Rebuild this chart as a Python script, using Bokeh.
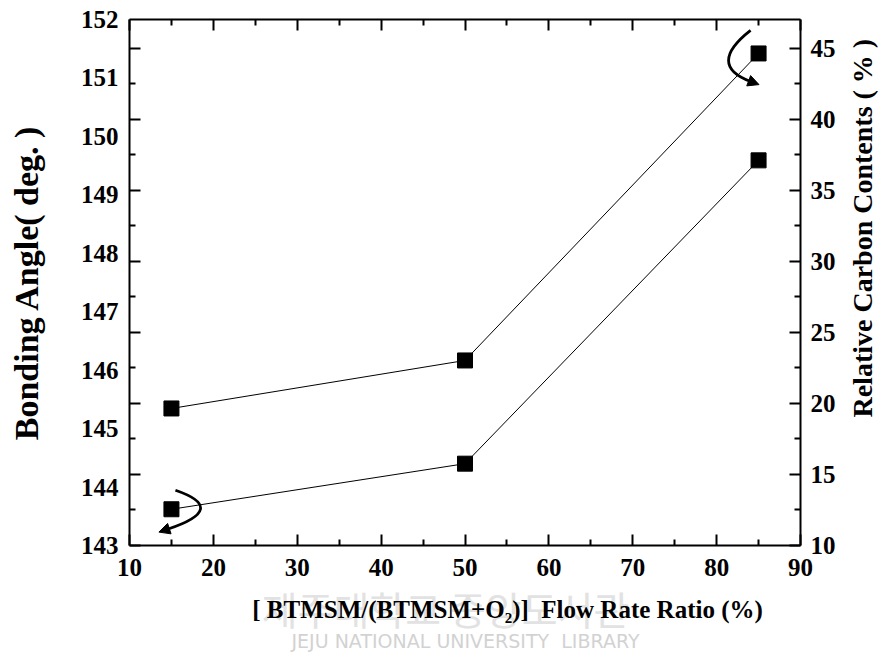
import math

from bokeh.plotting import figure
from bokeh.models import Range1d, LinearAxis, FixedTicker, Arrow, NormalHead
from bokeh.embed import file_html
from bokeh.resources import INLINE

# ---- data ----
flow_ratio = [15, 50, 85]                      # [BTMSM/(BTMSM+O2)] flow rate ratio (%)
bonding_angle = [143.62, 144.40, 149.59]       # Si-O-Si bonding angle (deg.)
carbon_contents = [19.65, 23.03, 44.65]        # relative carbon contents (%)

x_ticks = [10, 20, 30, 40, 50, 60, 70, 80, 90]
x_minor = [15, 25, 35, 45, 55, 65, 75, 85]
angle_ticks = [143, 144, 145, 146, 147, 148, 149, 150, 151, 152]
carbon_ticks = [10, 15, 20, 25, 30, 35, 40, 45]
carbon_minor = [12.5, 17.5, 22.5, 27.5, 32.5, 37.5, 42.5]

X_RANGE = (10, 90)
ANGLE_RANGE = (143, 152)
CARBON_RANGE = (10, 47.04)

FONT = "Liberation Serif"

# ---- layout ----
W, H = 896, 668
BL, BR, BT, BB = 129, 96, 19, 123
FW, FH = W - BL - BR, H - BT - BB


def sx():
    return (X_RANGE[1] - X_RANGE[0]) / FW


def sy(rng):
    return (rng[1] - rng[0]) / FH


def px_to_x(px):
    return round(X_RANGE[0] + (px - BL) * sx(), 2)


def py_to_y(py, rng):
    return round(rng[0] + (BT + FH - py) * sy(rng), 2)


p = figure(width=W, height=H, x_range=Range1d(*X_RANGE), y_range=Range1d(*ANGLE_RANGE),
           x_axis_location=None, y_axis_location=None,
           output_backend="svg", toolbar_location=None,
           min_border_left=BL, min_border_right=BR, min_border_top=BT, min_border_bottom=BB)
p.extra_y_ranges = {"carbon": Range1d(*CARBON_RANGE)}
p.grid.visible = False
p.outline_line_color = None
p.background_fill_color = "white"
p.border_fill_color = "white"


def frame_axis(ticks, minor, labels=True, **kw):
    ax = LinearAxis(ticker=FixedTicker(ticks=ticks, minor_ticks=minor), **kw)
    ax.axis_line_width = 2
    ax.axis_line_color = "black"
    ax.major_tick_line_width = 2
    ax.minor_tick_line_width = 2
    ax.major_tick_in, ax.major_tick_out = 11, 0
    ax.minor_tick_in, ax.minor_tick_out = 6, 0
    ax.major_label_text_font = FONT
    ax.major_label_text_font_style = "bold"
    ax.major_label_text_font_size = "25px"
    ax.major_label_text_color = "black"
    ax.axis_label_text_font = FONT
    ax.axis_label_text_font_style = "bold"
    ax.axis_label_text_color = "black"
    if not labels:
        ax.major_label_overrides = {t: "" for t in ticks}
        ax.major_label_standoff = 0
    return ax


def text_axis(at, text, standoff, size, font=FONT, style="bold", color="black",
              orientation="horizontal", **kw):
    """A bare axis whose single tick label carries a free-standing text at `at`."""
    ax = LinearAxis(ticker=FixedTicker(ticks=[at]), **kw)
    ax.axis_line_color = None
    ax.major_tick_in = ax.major_tick_out = 0
    ax.minor_tick_in = ax.minor_tick_out = 0
    ax.major_label_overrides = {at: text}
    ax.major_label_standoff = standoff
    ax.major_label_orientation = orientation
    ax.major_label_text_font = font
    ax.major_label_text_font_style = style
    ax.major_label_text_font_size = size
    ax.major_label_text_color = color
    return ax


# ---- bottom: frame line, ticks and labels; watermark; title ----
xb = frame_axis(x_ticks, x_minor)
xb.major_label_standoff = 13
p.add_layout(xb, "below")

# library watermark lying under the x title
p.add_layout(text_axis(px_to_x(445), "제주대학교 중앙도서관", 1, "39px",
                       font="Noto Sans CJK KR", style="normal", color="#e2e2e2"), "below")
p.add_layout(text_axis(px_to_x(465), "JEJU NATIONAL UNIVERSITY\u00a0 LIBRARY", -9, "19px",
                       font="DejaVu Sans", style="normal", color="#d2d2d2"), "below")

p.add_layout(text_axis(px_to_x(507), "[ BTMSM/(BTMSM+O\u2082)]\u00a0 Flow Rate Ratio (%)",
                       -59, "25px"), "below")

# ---- top: ticks only ----
p.add_layout(frame_axis(x_ticks, x_minor, labels=False), "above")

# ---- left: frame line with ticks on the carbon scale, then bonding-angle labels ----
p.add_layout(frame_axis(carbon_ticks, carbon_minor, labels=False, y_range_name="carbon"), "left")

yl = frame_axis(angle_ticks, [])
yl.axis_line_color = None
yl.major_tick_in = yl.major_tick_out = 0
yl.minor_tick_in = yl.minor_tick_out = 0
yl.major_label_standoff = 11
yl.axis_label = "Bonding Angle( deg. )"
yl.axis_label_text_font_size = "34px"
yl.axis_label_standoff = 33
p.add_layout(yl, "left")

# ---- right: carbon contents axis, then its title reading bottom-to-top ----
yr = frame_axis(carbon_ticks, carbon_minor, y_range_name="carbon")
yr.major_label_standoff = 10
p.add_layout(yr, "right")

p.add_layout(text_axis(py_to_y(417, CARBON_RANGE), "Relative Carbon Contents ( % )", 24, "28px",
                       orientation=math.pi / 2, y_range_name="carbon"), "right")

# ---- series ----
p.line(flow_ratio, bonding_angle, line_color="black", line_width=1)
p.scatter(flow_ratio, bonding_angle, marker="square", size=15,
          fill_color="black", line_color="black")
p.line(flow_ratio, carbon_contents, line_color="black", line_width=1, y_range_name="carbon")
p.scatter(flow_ratio, carbon_contents, marker="square", size=15,
          fill_color="black", line_color="black", y_range_name="carbon")


# curved arrows pointing each series to its axis
def curved_arrow(x0, y0, rng, rng_name, start, ctrl, end):
    """start/ctrl/end are pixel offsets from the data point (y downward)."""
    def to_data(off):
        return x0 + off[0] * sx(), y0 - off[1] * sy(rng)

    (xs, ys), (xc, yc), (xe, ye) = to_data(start), to_data(ctrl), to_data(end)
    kw = {} if rng_name is None else {"y_range_name": rng_name}
    p.quadratic(x0=[xs], y0=[ys], x1=[xe], y1=[ye], cx=[xc], cy=[yc],
                line_color="black", line_width=2.8, **kw)
    tx, ty = end[0] - ctrl[0], end[1] - ctrl[1]
    n = math.hypot(tx, ty)
    tip = (end[0] + 9 * tx / n, end[1] + 9 * ty / n)
    xt, yt = to_data(tip)
    head = NormalHead(size=11, fill_color="black", line_color="black", line_width=1)
    p.add_layout(Arrow(x_start=xe, y_start=ye, x_end=xt, y_end=yt, end=head,
                       line_color="black", line_width=2.8, **kw))


curved_arrow(flow_ratio[0], bonding_angle[0], ANGLE_RANGE, None,
             start=(4, -19), ctrl=(58, -0.5), end=(-4, 20))
curved_arrow(flow_ratio[-1], carbon_contents[-1], CARBON_RANGE, "carbon",
             start=(-8, -23), ctrl=(-52, 11.5), end=(-8, 28))

open("out.html", "w").write(file_html(p, INLINE))
